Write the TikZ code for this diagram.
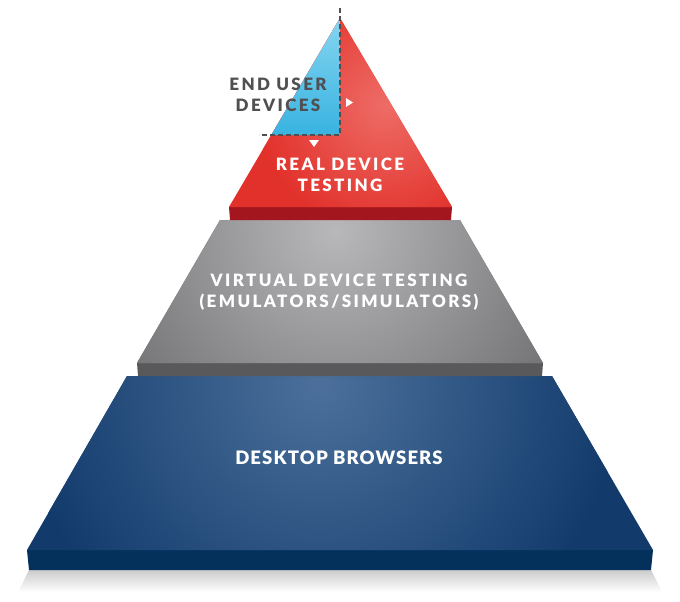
\documentclass[tikz,border=0pt]{standalone}
\usepackage{fontspec}
\setmainfont{Lato}
\newfontfamily\tierfont[LetterSpace=14]{Lato Black}
\newfontfamily\basefont[LetterSpace=6]{Lato Black}
\definecolor{redtop}{HTML}{E2302A}
\definecolor{redlight}{HTML}{EE6C66}
\definecolor{redfront}{HTML}{A3161D}
\definecolor{skylight}{HTML}{86D5F0}
\definecolor{sky}{HTML}{38B3E1}
\definecolor{greytop}{HTML}{747477}
\definecolor{greylight}{HTML}{B8B8BB}
\definecolor{greyfront}{HTML}{59595B}
\definecolor{navytop}{HTML}{123B6C}
\definecolor{navylight}{HTML}{4C709B}
\definecolor{navyfront}{HTML}{03315B}
\definecolor{ink}{HTML}{505052}
\tikzset{
  tier/.style={font=\tierfont\fontsize{17}{21}\selectfont, text=white, align=center, inner sep=0pt},
  guide/.style={draw=ink, line width=1.3pt, dash pattern=on 5pt off 3pt},
  marker/.style={fill=white}
}
\begin{document}
\begin{tikzpicture}[x=1pt,y=-1pt]
\useasboundingbox (0,0) rectangle (680,602);
% bottom tier
\coordinate (bl) at (127,376); \coordinate (br) at (552,376); \coordinate (bR) at (653,550); \coordinate (bL) at (27,550);
\shade[top color=black!20, bottom color=white] (29,570)--(651,570)--(662,592)--(18,592)--cycle;
\fill[navyfront] (bL)--(bR)--(651,570)--(29,570)--cycle;
\begin{scope}
\clip (bl)--(br)--(bR)--(bL)--cycle;
\fill[navytop] (0,370) rectangle (680,560);
\shade[inner color=navylight, outer color=navytop] (320,385) circle (300pt);
\end{scope}
% middle tier
\coordinate (ml) at (220,220); \coordinate (mr) at (460,220); \coordinate (mR) at (543,363); \coordinate (mL) at (137,363);
\fill[greyfront] (mL)--(mR)--(542,376)--(138,376)--cycle;
\begin{scope}
\clip (ml)--(mr)--(mR)--(mL)--cycle;
\fill[greytop] (100,210) rectangle (580,370);
\shade[inner color=greylight, outer color=greytop] (335,230) circle (250pt);
\end{scope}
% top tier
\coordinate (apex) at (340,18); \coordinate (rr) at (452,207); \coordinate (rl) at (229,207);
\fill[redfront] (rl)--(rr)--(451,220)--(230,220)--cycle;
\begin{scope}
\clip (apex)--(rr)--(rl)--cycle;
\fill[redtop] (200,0) rectangle (480,210);
\shade[inner color=redlight, outer color=redtop] (385,105) circle (130pt);
\end{scope}
% end user corner
\coordinate (dtop) at (340,8); \coordinate (dcorner) at (340,135); \coordinate (dleft) at (259,135);
\shade[top color=skylight, bottom color=sky] (apex)--(dcorner)--(271.3,135)--cycle;
\draw[guide] (dtop)--(dcorner)--(dleft);
\fill[marker] (346,98)--(353,102.5)--(346,107)--cycle;
\fill[marker] (309,140)--(319,140)--(314,147)--cycle;
\node[tier, text=ink] (enduser) at (278,95) {END USER\\DEVICES};
\node[tier] (real) at (340,175) {REAL DEVICE\\TESTING};
\node[tier] (virtual) at (339,292) {VIRTUAL DEVICE TESTING\\(EMULATORS/SIMULATORS)};
\node[tier, font=\basefont\fontsize{18.5}{21}\selectfont] (desktop) at (339,458) {DESKTOP BROWSERS};
\end{tikzpicture}
\end{document}
